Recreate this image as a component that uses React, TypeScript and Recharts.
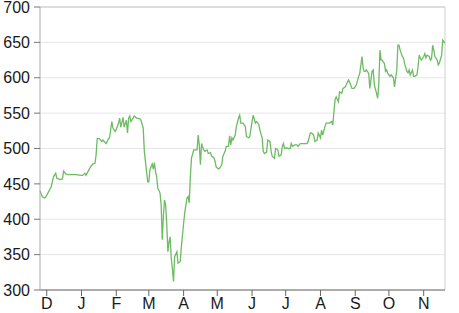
import React from "react";
import {
  LineChart,
  Line,
  XAxis,
  YAxis,
  CartesianGrid,
  ReferenceLine,
} from "recharts";

// day offsets from the first session (late Nov) and closing values
const days = [
  0, 2, 4, 5, 7, 10, 12, 14, 15, 18, 20, 21, 23, 25, 29, 32, 37, 38, 40, 41, 43, 45, 47, 49, 50, 51, 53, 55, 56, 59,
  61, 62, 64, 65, 67, 68, 70, 71, 72, 74, 75, 77, 78, 79, 80, 81, 83, 84, 86, 89, 90, 92, 93, 95, 96, 97, 98, 100,
  101, 102, 103, 104, 105, 107, 108, 109, 110, 111, 112, 113, 114, 115, 116, 117, 118, 119, 120, 122, 123, 125, 126,
  128, 129, 131, 132, 133, 134, 135, 137, 138, 140, 141, 142, 143, 144, 145, 146, 147, 149, 150, 152, 153, 155, 156,
  157, 159, 160, 162, 163, 165, 166, 168, 169, 170, 171, 172, 174, 175, 177, 178, 179, 181, 183, 184, 186, 187, 189,
  190, 192, 193, 195, 196, 198, 199, 200, 202, 203, 205, 206, 207, 209, 210, 212, 213, 215, 216, 217, 218, 220, 221,
  223, 224, 225, 227, 229, 230, 232, 234, 238, 239, 241, 242, 244, 245, 247, 248, 250, 251, 252, 254, 255, 257, 258,
  260, 261, 262, 263, 264, 266, 267, 269, 270, 272, 273, 275, 276, 278, 280, 282, 284, 285, 287, 288, 289, 290, 291,
  293, 294, 296, 297, 298, 300, 301, 302, 303, 304, 305, 307, 308, 309, 310, 312, 313, 315, 316, 318, 319, 320, 321,
  323, 324, 325, 327, 328, 329, 330, 332, 333, 334, 336, 337, 338, 339, 340, 342, 343, 344, 345, 347, 348, 349, 350,
  351, 352, 354, 355, 356, 358, 359, 361,
];

const prices = [
  440, 432, 430, 431, 437, 446, 460, 465, 458, 456, 457, 468, 464, 463, 463, 463, 462, 462, 465, 462, 468, 474, 478,
  479, 491, 514, 514, 510, 512, 507, 514, 515, 538, 529, 524, 527, 536, 543, 530, 544, 530, 540, 522, 543, 546, 538,
  543, 546, 543, 542, 540, 529, 496, 467, 453, 453, 470, 478, 471, 480, 467, 460, 444, 437, 420, 371, 406, 427, 420,
  392, 354, 368, 375, 345, 330, 312, 347, 354, 338, 340, 361, 394, 409, 430, 432, 423, 460, 486, 498, 498, 498, 519,
  505, 477, 507, 502, 498, 496, 498, 493, 494, 489, 487, 482, 474, 471, 472, 477, 489, 496, 503, 503, 518, 505, 515,
  512, 519, 531, 543, 547, 536, 536, 531, 517, 515, 517, 538, 547, 536, 538, 534, 526, 515, 496, 493, 495, 512, 510,
  496, 489, 486, 500, 498, 489, 491, 503, 507, 500, 501, 500, 500, 507, 503, 505, 505, 503, 507, 507, 507, 510, 522,
  522, 519, 510, 512, 522, 515, 526, 519, 531, 536, 536, 536, 538, 533, 552, 569, 573, 566, 580, 578, 585, 587, 590,
  597, 594, 585, 585, 590, 602, 606, 630, 614, 609, 609, 611, 606, 585, 609, 611, 590, 578, 571, 592, 639, 625, 625,
  620, 609, 611, 606, 602, 604, 600, 587, 611, 646, 646, 639, 630, 628, 620, 609, 607, 611, 604, 611, 602, 602, 604,
  616, 632, 628, 625, 630, 634, 628, 632, 630, 625, 627, 646, 639, 630, 625, 618, 621, 632, 653, 649,
];

// first day of each month, as offsets on the same scale
const monthTicks = [6, 37, 68, 97, 128, 158, 189, 219, 250, 281, 311, 342];
const monthLabels = ["D", "J", "F", "M", "A", "M", "J", "J", "A", "S", "O", "N"];
const yTicks = [300, 350, 400, 450, 500, 550, 600, 650, 700];

const data = days.map((d, i) => ({ day: d, value: prices[i] }));

const tickStyle = { fontFamily: "'Liberation Sans', Arial, sans-serif", fontSize: 16, fill: "#1a1a1a" };

export default function App() {
  return (
    <div style={{ position: "absolute", left: 0, top: 0, background: "#fff" }}>
      <LineChart width={459} height={313} data={data} margin={{ top: 7, right: 14, bottom: 0, left: 0 }}>
        <CartesianGrid vertical={false} stroke="#e6e6e6" />
        <XAxis
          dataKey="day"
          type="number"
          domain={[0, 361]}
          ticks={monthTicks}
          tickFormatter={(v: number) => monthLabels[monthTicks.indexOf(v)]}
          height={23}
          tick={tickStyle}
          tickSize={6}
          tickMargin={2}
          stroke="#666"
          interval={0}
        />
        <YAxis
          domain={[300, 700]}
          ticks={yTicks}
          width={40}
          tick={tickStyle}
          tickSize={6}
          tickMargin={4}
          axisLine={{ stroke: "#aaa" }}
          tickLine={{ stroke: "#777" }}
          interval={0}
        />
        <ReferenceLine y={700} stroke="#c8c8c8" />
        <ReferenceLine x={361} stroke="#d0d0d0" />
        <Line
          type="linear"
          dataKey="value"
          stroke="#6dbb63"
          strokeWidth={1.3}
          dot={false}
          isAnimationActive={false}
        />
      </LineChart>
    </div>
  );
}
